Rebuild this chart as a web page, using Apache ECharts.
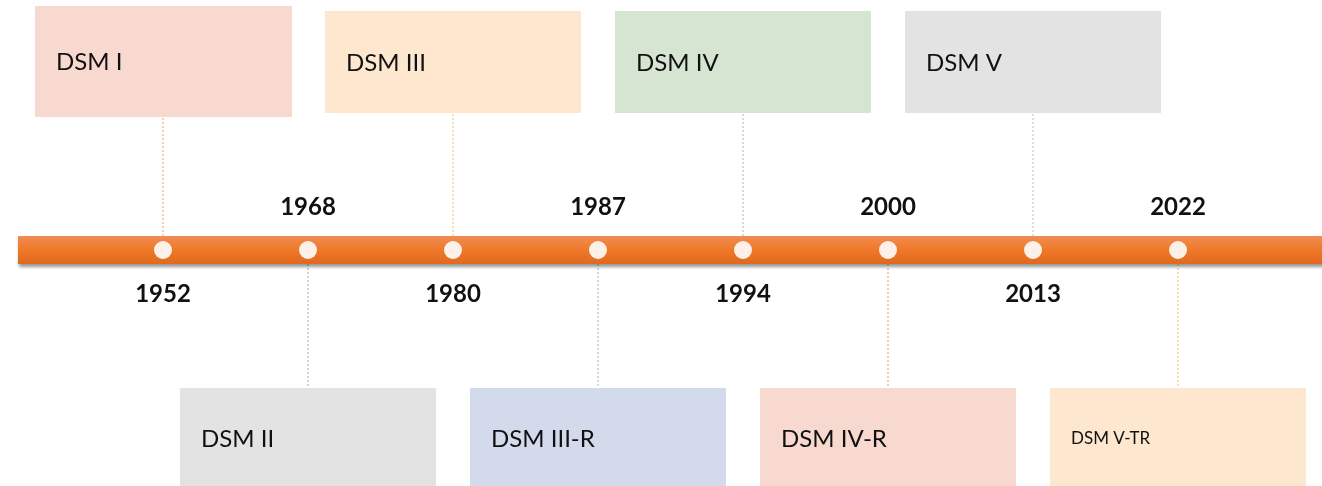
<!DOCTYPE html>
<html>
<head>
<meta charset="utf-8">
<script src="https://cdn.jsdelivr.net/npm/echarts@6/dist/echarts.min.js"></script>
<style>
  html, body { margin: 0; padding: 0; background: #fff; }
  #chart { width: 1322px; height: 486px; }
</style>
</head>
<body>
<div id="chart"></div>
<script>
  // timeline data
  const years = [1952, 1968, 1980, 1987, 1994, 2000, 2013, 2022]
  const editions = ['DSM I', 'DSM II', 'DSM III', 'DSM III-R', 'DSM IV', 'DSM IV-R', 'DSM V', 'DSM V-TR']

  // palette (box fill / connector line), same order as editions
  const boxColors = ['#f8d9cf', '#e3e3e3', '#fde7cf', '#d3daec', '#d6e4d2', '#f8d9cf', '#e3e3e3', '#fde7cf']
  const lineColors = ['#eaa07b', '#a8a8a8', '#f2c27b', '#a7b4dc', '#a9b4ab', '#e89a74', '#b7bcc8', '#f4c34a']

  const FONT = 'Lato, "Open Sans", sans-serif'
  const BAR_H = 28

  const chart = echarts.init(document.getElementById('chart'))

  function renderBar (params, api) {
    const p = api.coord([0, 0])
    const step = api.size([1, 0])[0]
    const x0 = p[0] - step
    return {
      type: 'rect',
      shape: { x: x0, y: p[1] - BAR_H / 2, width: api.getWidth() - x0 + 10, height: BAR_H },
      style: {
        fill: new echarts.graphic.LinearGradient(0, 0, 0, 1, [
          { offset: 0, color: '#f08d55' },
          { offset: 0.45, color: '#f07a2c' },
          { offset: 1, color: '#e1681c' }
        ]),
        shadowColor: 'rgba(0,0,0,0.4)',
        shadowBlur: 3,
        shadowOffsetX: 1,
        shadowOffsetY: 3
      }
    }
  }

  function renderBox (params, api) {
    const i = params.dataIndex
    const p = api.coord([api.value(0), 0])
    const x = p[0]
    const y = p[1]
    const up = i % 2 === 0
    const big = i === 0
    const w = big ? 257 : 256
    const h = up ? (big ? 111 : 102) : 100
    const left = x - (big ? 128 : 128)
    const top = up ? (big ? y - 244 : y - 239) : y + 138
    const lineFrom = up ? y - BAR_H / 2 : y + BAR_H / 2
    const lineTo = up ? top + h : top
    return {
      type: 'group',
      children: [
        {
          type: 'line',
          shape: { x1: x, y1: lineFrom, x2: x, y2: lineTo },
          style: { stroke: lineColors[i], lineWidth: 1, lineDash: [2, 2] }
        },
        {
          type: 'rect',
          shape: { x: left, y: top, width: w, height: h },
          style: { fill: boxColors[i] }
        },
        {
          type: 'text',
          x: left + 21,
          y: top + h / 2 + 1,
          style: {
            text: editions[i],
            fill: '#111',
            font: (i === 7 ? '17px ' : '24px ') + FONT,
            align: 'left',
            verticalAlign: 'middle'
          }
        }
      ]
    }
  }

  function renderDot (params, api) {
    const i = params.dataIndex
    const p = api.coord([api.value(0), 0])
    const below = i % 2 === 0
    return {
      type: 'group',
      children: [
        {
          type: 'circle',
          shape: { cx: p[0], cy: p[1], r: 9 },
          style: { fill: '#fdf0e8' }
        },
        {
          type: 'text',
          x: p[0],
          y: below ? p[1] + 44 : p[1] - 43,
          style: {
            text: String(years[i]),
            fill: '#111',
            font: 'bold 24px ' + FONT,
            align: 'center',
            verticalAlign: 'middle'
          }
        }
      ]
    }
  }

  const points = years.map((y, i) => [i, 0])

  chart.setOption({
    animation: false,
    grid: { left: 90.5, width: 1160, top: 14, bottom: 0 },
    xAxis: {
      type: 'category',
      data: years.map(String),
      boundaryGap: true,
      show: false
    },
    yAxis: { type: 'value', min: -1, max: 1, show: false },
    series: [
      { type: 'custom', z: 1, clip: false, data: points, renderItem: renderBox, silent: true },
      { type: 'custom', z: 2, clip: false, data: [[0, 0]], renderItem: renderBar, silent: true },
      { type: 'custom', z: 3, clip: false, data: points, renderItem: renderDot, silent: true }
    ]
  })
</script>
</body>
</html>
